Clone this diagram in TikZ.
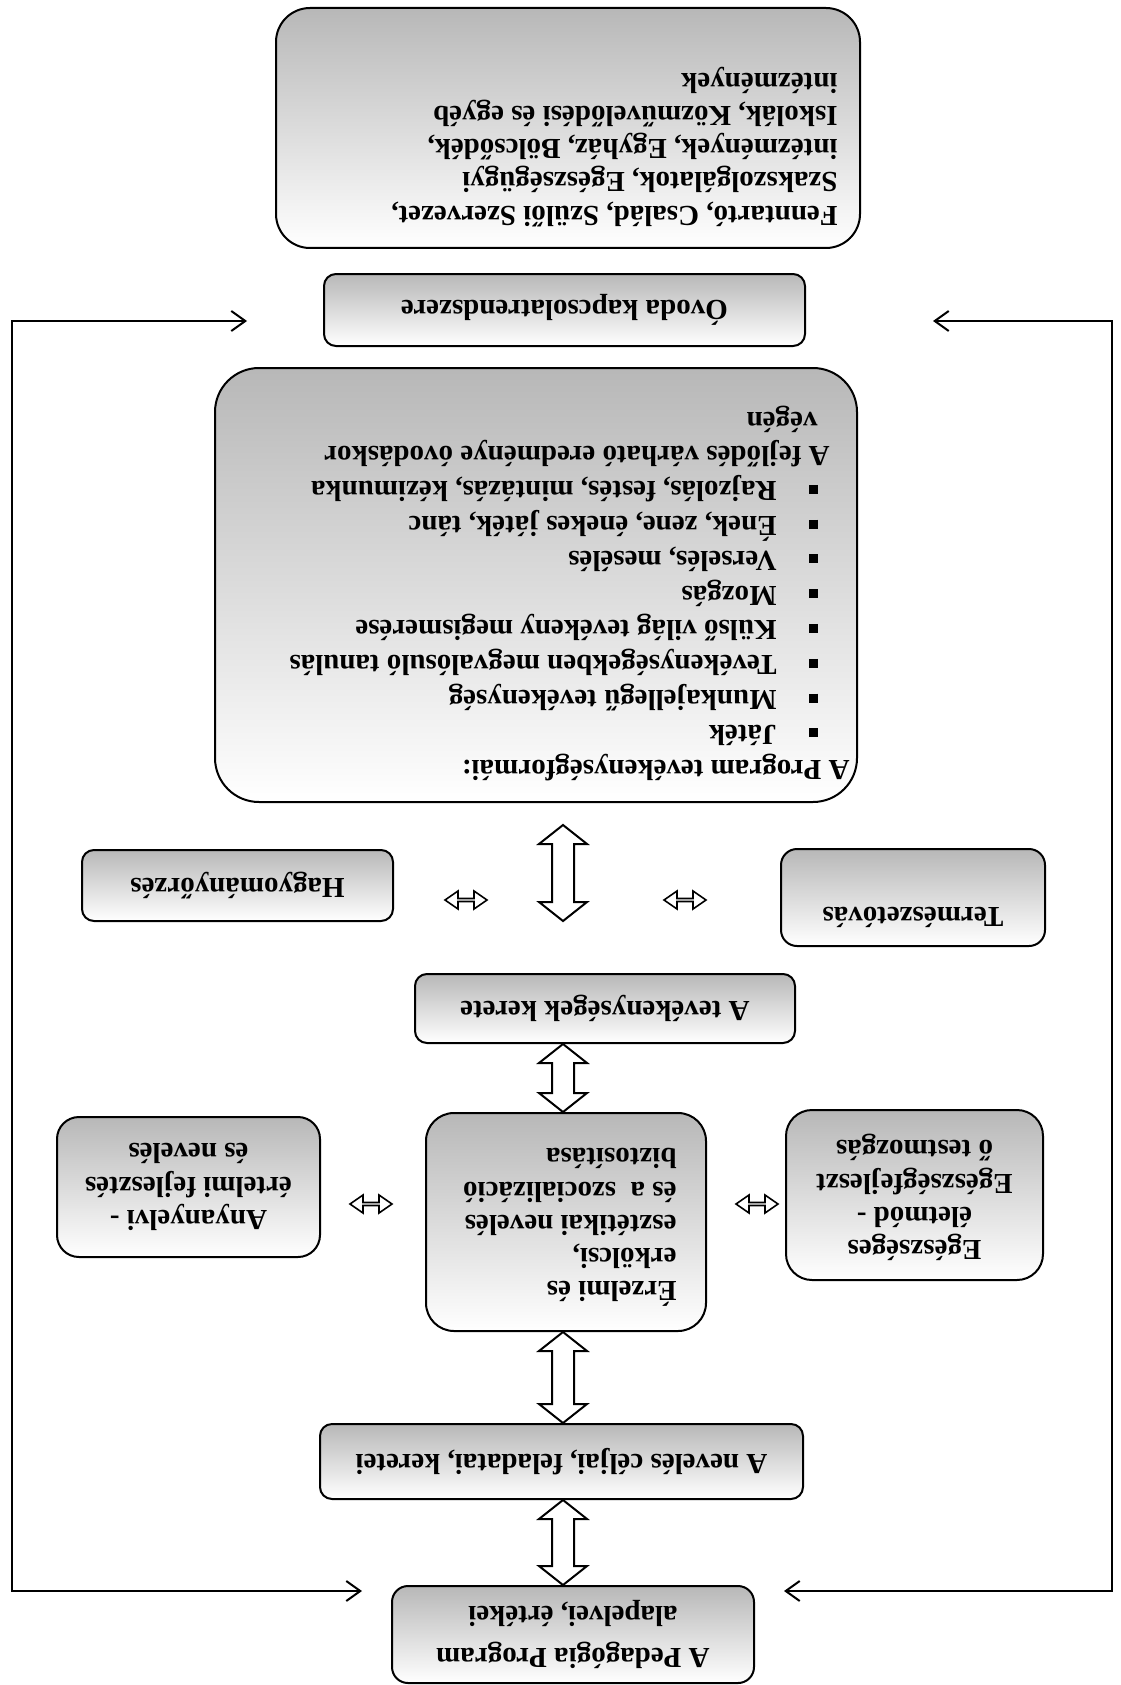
\documentclass[tikz,border=0pt]{standalone}
\usepackage{fontspec}
\setmainfont{Liberation Serif}
\usetikzlibrary{calc,arrows.meta}

\tikzset{
  box/.style={draw, line width=1pt, rounded corners=#1, top color=black!28, bottom color=white, inner sep=0pt},
  box/.default=6pt,
  txt/.style={rotate=180, inner sep=0pt, font=\fontsize{14.5}{16.6}\selectfont\bfseries},
  hollow/.style={draw, fill=white, line width=1pt, line join=miter},
  link/.style={line width=1pt, {Straight Barb[length=7pt,width=10pt]}-{Straight Barb[length=7pt,width=10pt]}},
}

\newcommand{\bul}{\raisebox{1.5pt}{\rule{4.5pt}{4.5pt}}}
% hollow double arrow, from #1 (top) down to #2 (bottom)
\newcommand{\blockarrow}[2]{%
  \draw[hollow] (#1) -- ($(#1)+(24,19)$) -- ($(#1)+(11,19)$) -- ($(#2)+(11,-19)$)
    -- ($(#2)+(24,-19)$) -- (#2) -- ($(#2)+(-24,-19)$) -- ($(#2)+(-11,-19)$)
    -- ($(#1)+(-11,19)$) -- ($(#1)+(-24,19)$) -- cycle;}
% small left-right arrow round #1
\newcommand{\smallarrow}[1]{%
  \draw[hollow, line width=0.8pt] ($(#1)+(-21,0)$) -- ++(13,-9) -- ++(0,7.5) -- ++(16,0) -- ++(0,-7.5)
    -- ++(13,9) -- ++(-13,9) -- ++(0,-7.5) -- ++(-16,0) -- ++(0,7.5) -- cycle;}

\begin{document}
\begin{tikzpicture}[x=0.5pt, y=-0.5pt]
\useasboundingbox (0,0) rectangle (1120,1685);

% boxes
\node[box=17pt, minimum width=292pt, minimum height=120pt] (fenn) at (568,128) {};
\node[box, minimum width=240.5pt, minimum height=36pt] (ovoda) at (564.5,310) {};
\node[box=22pt, minimum width=321pt, minimum height=217pt] (prog) at (536,585) {};
\node[box, minimum width=155.5pt, minimum height=35.5pt] (hagy) at (237.5,885.5) {};
\node[box=8pt, minimum width=132pt, minimum height=48.5pt] (term) at (913,897.5) {};
\node[box, minimum width=190pt, minimum height=34.5pt] (keret) at (605,1008.5) {};
\node[box=11pt, minimum width=131.5pt, minimum height=70pt] (anya) at (188.5,1187) {};
\node[box=14pt, minimum width=140pt, minimum height=109pt] (erz) at (566,1222) {};
\node[box=13pt, minimum width=128.5pt, minimum height=85pt] (egesz) at (914.5,1195) {};
\node[box, minimum width=241.5pt, minimum height=37.5pt] (cel) at (561.5,1461.5) {};
\node[box=8pt, minimum width=181pt, minimum height=48.5pt] (ped) at (573,1634.5) {};

% texts
\node[txt, anchor=north west, align=left] (fenntxt) at (838,227) {Fenntartó, Család, Szülői Szervezet,\\Szakszolgálatok, Egészségügyi\\intézmények, Egyház, Bölcsődék,\\Iskolák, Közművelődési és egyéb\\intézmények};
\node[txt] (ovodatxt) at (ovoda) {Óvoda kapcsolatrendszere};
\node[txt, anchor=north west, align=left, font=\fontsize{14.5}{17.4}\selectfont\bfseries] (progtxt) at (850,781) {A Program tevékenységformái:\\
  \hspace*{16pt}\bul\hspace*{16pt}Játék\\
  \hspace*{16pt}\bul\hspace*{16pt}Munkajellegű tevékenység\\
  \hspace*{16pt}\bul\hspace*{16pt}Tevékenységekben megvalósuló tanulás\\
  \hspace*{16pt}\bul\hspace*{16pt}Külső világ tevékeny megismerése\\
  \hspace*{16pt}\bul\hspace*{16pt}Mozgás\\
  \hspace*{16pt}\bul\hspace*{16pt}Verselés, mesélés\\
  \hspace*{16pt}\bul\hspace*{16pt}Ének, zene, énekes játék, tánc\\
  \hspace*{16pt}\bul\hspace*{16pt}Rajzolás, festés, mintázás, kézimunka\\
  \hspace*{10pt}A fejlődés várható eredménye óvodáskor\\
  \hspace*{16pt}végén};
\node[txt] (hagytxt) at (hagy) {Hagyományőrzés};
\node[txt] (termtxt) at (913,917) {Természetóvás};
\node[txt] (kerettxt) at (keret) {A tevékenységek kerete};
\node[txt, align=center] (anyatxt) at (anya) {Anyanyelvi -\\értelmi fejlesztés\\és nevelés};
\node[txt, anchor=north west, align=left] (erztxt) at (677,1307) {Érzelmi és\\erkölcsi,\\esztétikai nevelés\\és a~ szocializáció\\biztosítása};
\node[txt, anchor=north, align=center] (egesztxt) at (914.5,1261) {Egészséges\\életmód -\\Egészségfejleszt\\ő testmozgás};
\node[txt] (celtxt) at (cel) {A nevelés céljai, feladatai, keretei};
\node[txt, align=center, font=\fontsize{14.5}{21}\selectfont\bfseries] (pedtxt) at (ped) {A Pedagógia Program\\alapelvei, értékei};

% block arrows
\coordinate (ax) at (563,0);
\coordinate (a1t) at (563,825);
\coordinate (a1b) at (563,921);
\coordinate (a2t) at (keret.south -| ax);
\coordinate (a2b) at (erz.north -| ax);
\coordinate (a3t) at (erz.south -| ax);
\coordinate (a3b) at (cel.north -| ax);
\coordinate (a4t) at (cel.south -| ax);
\coordinate (a4b) at (ped.north -| ax);
\blockarrow{a1t}{a1b}
\blockarrow{a2t}{a2b}
\blockarrow{a3t}{a3b}
\blockarrow{a4t}{a4b}

% small arrows
\coordinate (s1) at (466,900);
\coordinate (s2) at (685,900);
\coordinate (s3) at (371,1204);
\coordinate (s4) at (757,1204);
\foreach \s in {s1,s2,s3,s4} {\smallarrow{\s}}

% feedback loop
\coordinate (lft) at (12,900);
\coordinate (rgt) at (1112,900);
\draw[link] ([shift={(-76,11)}]ovoda.west) -| (lft) |- ([shift={(-29,6)}]ped.north west);
\draw[link] ([shift={(127,11)}]ovoda.east) -| (rgt) |- ([shift={(29,6)}]ped.north east);
\end{tikzpicture}
\end{document}
